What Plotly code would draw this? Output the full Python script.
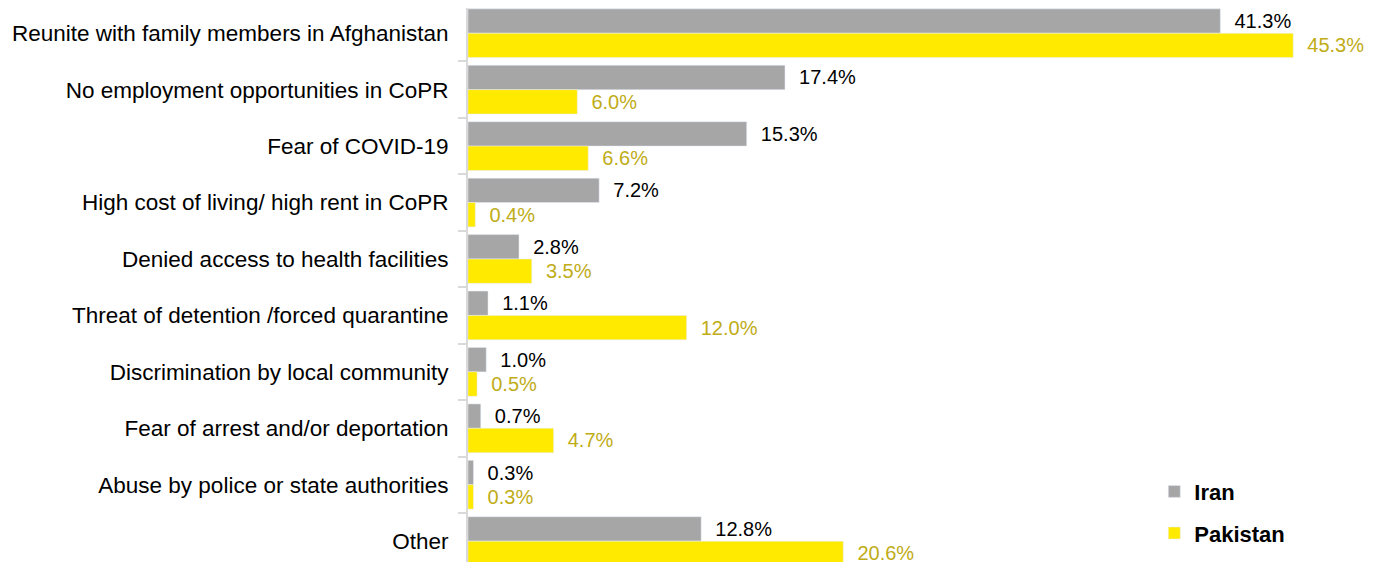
import plotly.graph_objects as go

categories = [
    "Reunite with family members in Afghanistan",
    "No employment opportunities in CoPR",
    "Fear of COVID-19",
    "High cost of living/ high rent in CoPR",
    "Denied access to health facilities",
    "Threat of detention /forced quarantine",
    "Discrimination by local community",
    "Fear of arrest and/or deportation",
    "Abuse by police or state authorities",
    "Other",
]
iran = [41.3, 17.4, 15.3, 7.2, 2.8, 1.1, 1.0, 0.7, 0.3, 12.8]
pakistan = [45.3, 6.0, 6.6, 0.4, 3.5, 12.0, 0.5, 4.7, 0.3, 20.6]

GRAY = "#a6a6a6"
YELLOW = "#ffea00"
OLIVE = "#bfac17"
FONT = "Liberation Sans, Arial, sans-serif"
NB = "\u00a0\u00a0"

fig = go.Figure()
fig.add_trace(
    go.Bar(
        y=categories,
        x=iran,
        orientation="h",
        name="Iran",
        marker=dict(color=GRAY),
        text=[f"{NB}{v:.1f}%" for v in iran],
        textposition="outside",
        textfont=dict(color="#000000", size=20, family=FONT),
        constraintext="none",
        cliponaxis=False,
        legendgroup="iran",
    )
)
fig.add_trace(
    go.Bar(
        y=categories,
        x=pakistan,
        orientation="h",
        name="Pakistan",
        marker=dict(color=YELLOW),
        text=[f"{NB}{v:.1f}%" for v in pakistan],
        textposition="outside",
        textfont=dict(color=OLIVE, size=20, family=FONT),
        constraintext="none",
        cliponaxis=False,
        legendgroup="pak",
    )
)

# page body adds 8px, so the figure is a bit smaller than the window
fig.update_layout(
    width=1369,
    height=554,
    margin=dict(l=460, r=0, t=0, b=0),
    paper_bgcolor="white",
    plot_bgcolor="white",
    barmode="group",
    bargap=0.136,
    bargroupgap=0,
    font=dict(family=FONT, size=20, color="#000000"),
    showlegend=True,
    legend=dict(
        x=0.755,
        y=0.165,
        xanchor="left",
        yanchor="top",
        font=dict(size=22, color="#000000", family=FONT, weight="bold"),
        tracegroupgap=10,
        itemwidth=30,
        bgcolor="rgba(0,0,0,0)",
    ),
)
fig.update_xaxes(
    range=[0, 49.9],
    visible=False,
    showgrid=False,
    zeroline=False,
)
fig.update_yaxes(
    type="category",
    range=[9.369, -0.447],
    showline=True,
    linecolor="#d9d9d9",
    linewidth=2,
    ticks="outside",
    tickson="boundaries",
    ticklen=8,
    tickcolor="#d9d9d9",
    tickwidth=2,
    showgrid=False,
    ticklabelstandoff=13,
    tickfont=dict(size=22.5, color="#000000"),
)

fig.write_html("out.html")
